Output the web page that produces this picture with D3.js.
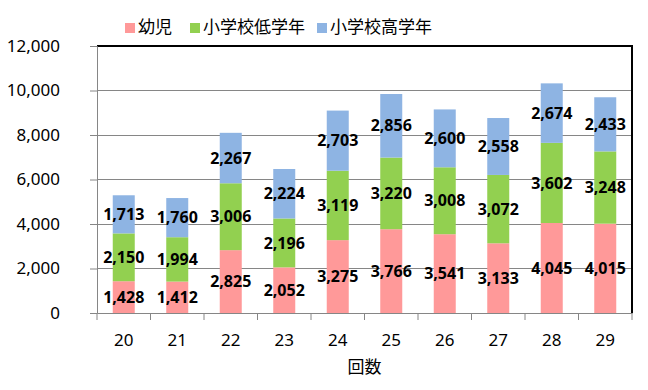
<!DOCTYPE html>
<html><head><meta charset="utf-8">
<script src="https://cdn.jsdelivr.net/npm/d3@7"></script>
<style>body{margin:0;background:#fff}</style>
</head><body>
<svg id="c" width="648" height="390"></svg>
<script>
const categories = ["20","21","22","23","24","25","26","27","28","29"];
const seriesNames = ["幼児","小学校低学年","小学校高学年"];
const youji = [1428,1412,2825,2052,3275,3766,3541,3133,4045,4015];
const tei = [2150,1994,3006,2196,3119,3220,3008,3072,3602,3248];
const kou = [1713,1760,2267,2224,2703,2856,2600,2558,2674,2433];
const yTicks = [0,2000,4000,6000,8000,10000,12000];
const colors = ["#FF9999","#92D050","#8EB4E3"];

const svg = d3.select("#c");
const L=97, R=632, T=46, B=313;
const x = d3.scaleBand().domain(categories).range([L,R]).paddingInner(0).paddingOuter(0);
const y = d3.scaleLinear().domain([0,12000]).range([B,T]);
const font = "'Noto Sans','DejaVu Sans',sans-serif";

// gridlines
svg.append("g").selectAll("line").data(yTicks.slice(1)).join("line")
  .attr("x1",L).attr("x2",R).attr("y1",d=>y(d)).attr("y2",d=>y(d))
  .attr("stroke","#868686").attr("stroke-width",1).attr("shape-rendering","crispEdges");

const rows = categories.map((c,i)=>({cat:c, s0:youji[i], s1:tei[i], s2:kou[i]}));
const stack = d3.stack().keys(["s0","s1","s2"])(rows);
const bw = 22;
stack.forEach((layer,k)=>{
  svg.append("g").selectAll("rect").data(layer).join("rect")
    .attr("x",d=>x(d.data.cat)+x.bandwidth()/2-bw/2)
    .attr("width",bw)
    .attr("y",d=>y(d[1]))
    .attr("height",d=>y(d[0])-y(d[1]))
    .attr("fill",colors[k]);
});

// border top/right
svg.append("path").attr("d",`M${L},${T}H${R}V${B}`).attr("fill","none")
  .attr("stroke","#000").attr("stroke-width",1.3).attr("shape-rendering","crispEdges");

// y axis
const ya = svg.append("g").attr("transform",`translate(${L},0)`)
  .call(d3.axisLeft(y).tickValues(yTicks).tickSize(7).tickPadding(30).tickFormat(d3.format(",")));
ya.select(".domain").attr("stroke","#868686");
ya.selectAll(".tick line").attr("stroke","#868686");
ya.selectAll("text").attr("font-family",font).attr("font-size",17).attr("fill","#000");

// x axis
const xa = svg.append("g").attr("transform",`translate(0,${B})`)
  .call(d3.axisBottom(x).tickSize(0).tickPadding(21));
xa.select(".domain").attr("stroke","#868686");
xa.selectAll("text").attr("font-family",font).attr("font-size",17).attr("fill","#000");
svg.append("g").selectAll("line").data(d3.range(categories.length+1)).join("line")
  .attr("x1",i=>L+i*x.bandwidth()).attr("x2",i=>L+i*x.bandwidth())
  .attr("y1",B).attr("y2",B+7).attr("stroke","#868686");

// data labels
stack.forEach((layer,k)=>{
  svg.append("g").selectAll("text").data(layer).join("text")
    .attr("x",d=>x(d.data.cat)+x.bandwidth()/2)
    .attr("y",d=>(y(d[0])+y(d[1]))/2)
    .attr("dy","0.35em").attr("text-anchor","middle")
    .attr("font-family",font).attr("font-size",16).attr("font-weight","bold")
    .attr("fill","#000")
    .text(d=>d3.format(",")(d[1]-d[0]));
});

// axis title
svg.append("text").attr("x",(L+R)/2).attr("y",373).attr("text-anchor","middle")
  .attr("font-family","'Noto Sans CJK JP',sans-serif").attr("font-size",17).text("回数");

// legend
const legX = [125,190,317];
seriesNames.forEach((n,i)=>{
  svg.append("rect").attr("x",legX[i]).attr("y",23).attr("width",10).attr("height",10).attr("fill",colors[i]);
  svg.append("text").attr("x",legX[i]+13).attr("y",27).attr("dy","0.35em")
    .attr("font-family","'Noto Sans CJK JP',sans-serif").attr("font-size",17).text(n);
});
</script>
</body></html>
